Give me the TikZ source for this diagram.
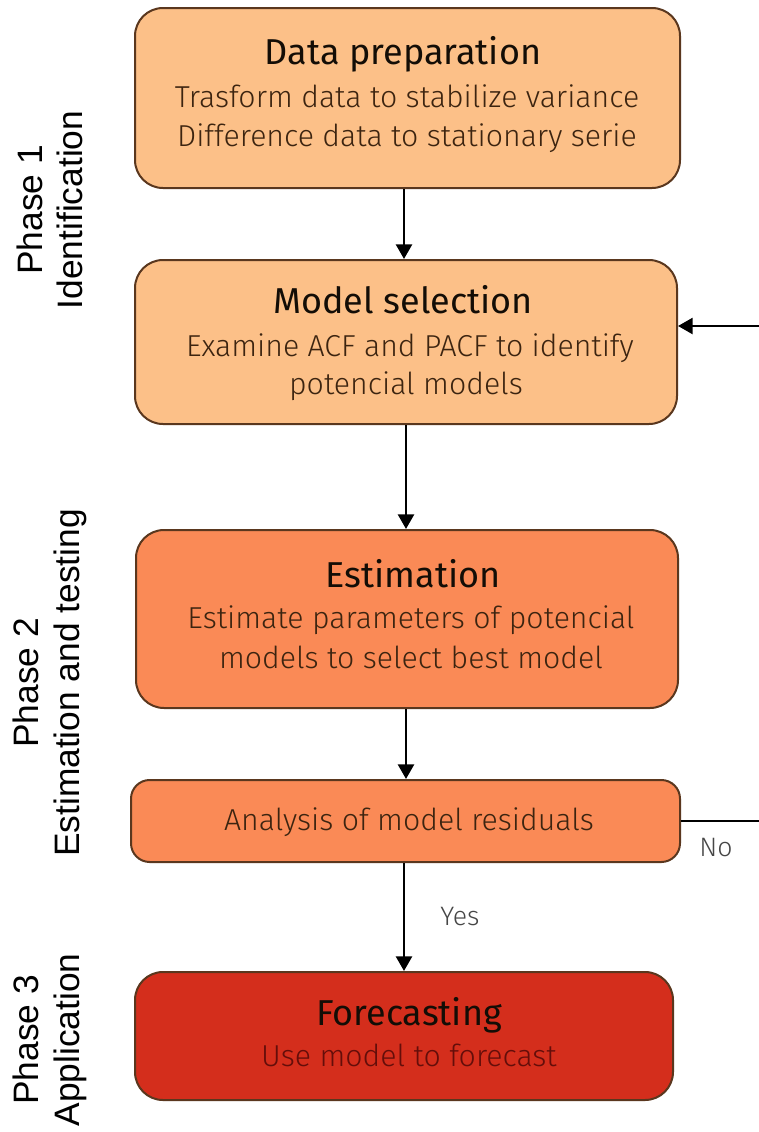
\documentclass[tikz,border=0pt]{standalone}
\usepackage{fontspec}
\setmainfont{Fira Sans}
\newfontfamily\lightf{Fira Sans Light}
\newfontfamily\phasef{Liberation Sans}
\usetikzlibrary{arrows.meta}
\definecolor{lightor}{RGB}{252,192,136}
\definecolor{midor}{RGB}{250,138,86}
\definecolor{deepred}{RGB}{212,46,28}
\definecolor{edgebrown}{RGB}{90,55,30}
\definecolor{txtbrown}{RGB}{60,36,16}
\definecolor{txtred}{RGB}{100,14,10}
\definecolor{lblgrey}{RGB}{70,70,70}
\begin{document}
\begin{tikzpicture}[x=0.75pt,y=-0.75pt,
  box/.style={draw=edgebrown, line width=1.5pt, rounded corners=21pt, inner sep=0pt},
  ttl/.style={anchor=base, inner sep=0pt, text=black!90!brown, font=\fontsize{27}{31}\selectfont},
  bdy/.style={anchor=base, inner sep=0pt, text=txtbrown, font=\lightf\fontsize{22.7}{26}\selectfont},
  phase/.style={rotate=90, align=center, inner sep=0pt, font=\phasef\fontsize{26.5}{30.5}\selectfont},
  lbl/.style={anchor=base, inner sep=0pt, text=lblgrey, font=\lightf\fontsize{20}{23}\selectfont},
  conn/.style={draw=black, line width=1.9pt, -{Triangle[length=11pt,width=12pt]}},
  plain/.style={draw=black, line width=1.9pt}]
\useasboundingbox (0,0) rectangle (759,1132);
\fill[white] (0,0) rectangle (759,1132);

% boxes
\node[box, fill=lightor, minimum width=408.75pt, minimum height=135pt] (prep) at (407.5,98) {};
\node[box, fill=lightor, minimum width=406.5pt, minimum height=123pt] (model) at (406,342) {};
\node[box, fill=midor, minimum width=406.5pt, minimum height=133.5pt] (est) at (407,619) {};
\node[box, fill=midor, minimum width=411.75pt, minimum height=61.5pt, rounded corners=14pt] (ana) at (405.5,821) {};
\node[box, fill=deepred, minimum width=403.5pt, minimum height=96pt] (fore) at (404,1036) {};

% texts
\node[ttl] (prepT) at (403,64) {Data preparation};
\node[bdy] (prepA) at (407,107) {Trasform data to stabilize variance};
\node[bdy] (prepB) at (407,146) {Difference data to stationary serie};

\node[ttl] (modelT) at (403,313) {Model selection};
\node[bdy] (modelA) at (410,356) {Examine ACF and PACF to identify};
\node[bdy] (modelB) at (406,394) {potencial models};

\node[ttl] (estT) at (413,587) {Estimation};
\node[bdy] (estA) at (411,628) {Estimate parameters of potencial};
\node[bdy] (estB) at (411,668) {models to select best model};

\node[bdy] (anaT) at (409,830) {Analysis of model residuals};

\node[ttl] (foreT) at (409,1025) {Forecasting};
\node[bdy, text=txtred] (foreA) at (409,1066) {Use model to forecast};

% phase labels
\node[phase] (ph1) at (50,210) {Phase 1\\Identification};
\node[phase] (ph2) at (50,683) {Phase 2\\Estimation and testing};
\node[phase] (ph3) at (50,1040) {Phase 3\\Application};

% connectors
\draw[conn] (prep.south -| 404,0) -- (model.north -| 404,0);
\draw[conn] (model.south -| 406,0) -- (est.north -| 406,0);
\draw[conn] (est.south -| 406,0) -- (ana.north -| 406,0);
\draw[conn] (ana.south -| 404,0) -- (fore.north -| 404,0);
\node[lbl] (yes) at (460,925) {Yes};

\coordinate (fbin) at (model.east |- 0,326);
\begin{scope}
\clip (0,0) rectangle (759,1132);
\draw[conn] (ana.east) -- (775,821) |- (fbin);
\end{scope}
\node[lbl] (no) at (716,856) {No};
\end{tikzpicture}
\end{document}
